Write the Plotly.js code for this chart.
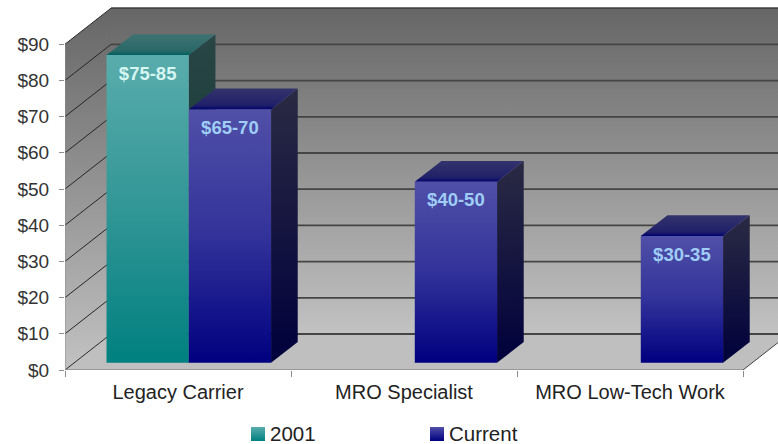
<!DOCTYPE html>
<html>
<head>
<meta charset="utf-8">
<script src="https://cdn.plot.ly/plotly-3.0.1.min.js"></script>
<style>html,body{margin:0;padding:0;background:#fff;overflow:hidden}</style>
</head>
<body>
<div id="chart" style="width:778px;height:444px"></div>
<script>
// Chart content
const categories = ["Legacy Carrier", "MRO Specialist", "MRO Low-Tech Work"];
const series2001 = [85, null, null];
const seriesCurrent = [70, 50, 35];
const labels2001 = ["$75-85", "", ""];
const labelsCurrent = ["$65-70", "$40-50", "$30-35"];
const valueTicks = [0, 10, 20, 30, 40, 50, 60, 70, 80, 90];
const valueTickText = ["$0", "$10", "$20", "$30", "$40", "$50", "$60", "$70", "$80", "$90"];
const seriesNames = ["2001", "Current"];

// Oblique projection: depth z (0 front, 1 back) shifts a point right and up in axis units
const pxPerCat = 226, pxPerVal = 3.62;
const depthX = 46 / pxPerCat, depthY = 36 / pxPerVal;
const xMax = 713 / pxPerCat, yMax = 370 / pxPerVal;
const pt = (c, v, z) => [c + z * depthX, v + z * depthY];

function poly(points, extra) {
  const closed = points.concat([points[0]]);
  return Object.assign({
    type: "scatter", mode: "lines", hoverinfo: "skip", showlegend: false,
    x: closed.map(p => p[0]), y: closed.map(p => p[1]),
    fill: "toself", line: { width: 0 }
  }, extra);
}
function vgrad(stops) {
  return { fillgradient: { type: "vertical", colorscale: stops } };
}
function seg(a, b, color, width, dash) {
  return {
    type: "scatter", mode: "lines", hoverinfo: "skip", showlegend: false, cliponaxis: false,
    x: [a[0], b[0]], y: [a[1], b[1]], line: { color, width, dash: dash || "solid" }
  };
}

const traces = [];
const nCat = categories.length, topVal = valueTicks[valueTicks.length - 1];

// Back wall, side wall and floor
const wallStops = [[0, "#c2c2c2"], [1, "#666666"]];
traces.push(poly([pt(0, 0, 1), pt(nCat, 0, 1), pt(nCat, topVal, 1), pt(0, topVal, 1)], vgrad(wallStops)));
traces.push(poly([pt(0, 0, 0), pt(0, 0, 1), pt(0, topVal, 1), pt(0, topVal, 0)], vgrad(wallStops)));
traces.push(poly([pt(0, 0, 0), pt(nCat, 0, 0), pt(nCat, 0, 1), pt(0, 0, 1)], { fillcolor: "#bfbfbf" }));

// Gridlines across both walls
valueTicks.forEach(v => {
  traces.push(seg(pt(0, v, 0), pt(0, v, 1), "#262626", 1));
  traces.push(seg(pt(0, v, 1), pt(nCat, v, 1), "#454545", 1.8));
});
traces.push(seg(pt(nCat, 0, 0), pt(nCat, 0, 1), "#444444", 1));
traces.push(seg(pt(0, 0, 0), pt(0, topVal, 0), "#8c8c8c", 1));
traces.push(seg(pt(0, 0, 0), pt(nCat, 0, 0), "#8c8c8c", 1.5));

// Boxes, two to a category, front at z0 and back at z1
const gapOffset = 0.143, barWidth = 0.364, z0 = 0.2, z1 = 0.78;
const palette2001 = {
  front: [[0, "#008080"], [0.5, "#329696"], [1, "#5aacac"]],
  side: [[0, "#002c2c"], [1, "#2a4646"]],
  top: [[0, "#006060"], [0.2, "#2a6868"], [1, "#3f7272"]]
};
const paletteCurrent = {
  front: [[0, "#000080"], [0.5, "#32329a"], [1, "#5050a8"]],
  side: [[0, "#00003c"], [1, "#2a2a44"]],
  top: [[0, "#000070"], [0.2, "#20206a"], [1, "#33336c"]]
};
const textTraces = [];

function addBox(cat, slot, value, pal, label, textColor) {
  const l = cat + gapOffset + slot * barWidth, r = l + barWidth;
  traces.push(poly([pt(r, 0, z0), pt(r, 0, z1), pt(r, value, z1), pt(r, value, z0)], vgrad(pal.side)));
  traces.push(poly([pt(l, value, z0), pt(r, value, z0), pt(r, value, z1), pt(l, value, z1)], vgrad(pal.top)));
  traces.push(poly([pt(l, 0, z0), pt(r, 0, z0), pt(r, value, z0), pt(l, value, z0)], vgrad(pal.front)));
  const c = pt((l + r) / 2, value - 5.5, z0);
  textTraces.push({
    type: "scatter", mode: "text", hoverinfo: "skip", showlegend: false, cliponaxis: false,
    x: [c[0]], y: [c[1]], text: [label], textposition: "middle center",
    textfont: { family: "Liberation Sans", size: 18.5, color: textColor, weight: "bold" }
  });
}
categories.forEach((_, i) => {
  if (series2001[i] !== null) addBox(i, 0, series2001[i], palette2001, labels2001[i], "#d6f6f2");
  if (seriesCurrent[i] !== null) addBox(i, 1, seriesCurrent[i], paletteCurrent, labelsCurrent[i], "#9fcdf5");
});
traces.push(...textTraces);

// Key entries live on a hidden page-wide axis pair measured in pixels
function addKey(name, xPos, top, bottom) {
  traces.push({
    type: "scatter", mode: "markers", name, showlegend: false, hoverinfo: "skip",
    xaxis: "x2", yaxis: "y2", x: [xPos], y: [434],
    marker: { symbol: "square", size: 14, color: top, gradient: { type: "vertical", color: bottom } }
  });
  traces.push({
    type: "scatter", mode: "text", showlegend: false, hoverinfo: "skip",
    xaxis: "x2", yaxis: "y2", x: [xPos + 12], y: [436], text: [name], textposition: "middle right",
    textfont: { family: "Liberation Sans", size: 20.5, color: "#222222" }
  });
}
addKey(seriesNames[0], 258, "#5aacac", "#008080");
addKey(seriesNames[1], 437, "#5050a8", "#000080");

const layout = {
  width: 778, height: 444,
  margin: { l: 0, r: 0, t: 0, b: 0, autoexpand: false },
  paper_bgcolor: "#ffffff", plot_bgcolor: "rgba(0,0,0,0)",
  font: { family: "Liberation Sans", color: "#222222" },
  showlegend: false,
  xaxis: {
    domain: [65 / 778, 1],
    range: [0, xMax], fixedrange: true, showgrid: false, zeroline: false, showline: false,
    tickmode: "array", tickvals: categories.map((_, i) => i + 0.5), ticktext: categories,
    ticks: "", ticklabelstandoff: 8, tickfont: { size: 20, color: "#222222" },
    minor: { tickmode: "array", tickvals: [0, 1, 2, 3], ticks: "outside", ticklen: 6, tickcolor: "#8c8c8c", showgrid: false }
  },
  yaxis: {
    domain: [74 / 444, 1],
    range: [0, yMax], fixedrange: true, showgrid: false, zeroline: false, showline: false,
    tickmode: "array", tickvals: valueTicks, ticktext: valueTickText,
    ticks: "outside", ticklen: 5, ticklabelstandoff: 6, tickcolor: "#8c8c8c", tickfont: { size: 19, color: "#333333" }
  },
  xaxis2: { domain: [0, 1], range: [0, 778], visible: false, fixedrange: true, anchor: "y2" },
  yaxis2: { domain: [0, 1], range: [444, 0], visible: false, fixedrange: true, anchor: "x2" }
};
Plotly.newPlot("chart", traces, layout, { displayModeBar: false, staticPlot: true });
</script>
</body>
</html>
